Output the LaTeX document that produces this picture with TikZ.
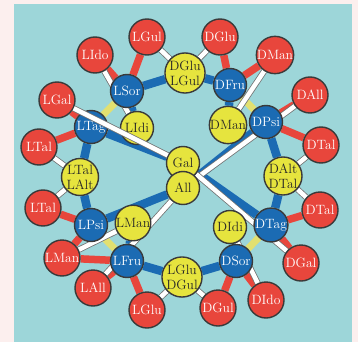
\documentclass[tikz,border=0pt]{standalone}
\usepackage{xcolor}
\usepackage{tikz}
\usetikzlibrary{backgrounds}
\definecolor{izuteal}{HTML}{9DD6D9}
\definecolor{izupink}{HTML}{FCEFEE}
\definecolor{izured}{HTML}{E8463C}
\definecolor{izublue}{HTML}{1B6BB3}
\definecolor{izuyel}{HTML}{E6E43E}
\definecolor{izulink}{HTML}{E2E070}
\definecolor{izurim}{HTML}{3A3A3A}
\tikzset{
  sugar/.style = {circle, draw=izurim, line width=1.4pt, inner sep=0pt,
    align=center, minimum size=33pt, font=\fontsize{13.5}{15}\selectfont},
  hex_k/.style = {sugar, fill=izublue, text=white},% cetose, bleu
  hex_a/.style = {sugar, fill=izured, text=white, minimum size=36pt},% aldose, rouge
  hex_p/.style = {sugar, fill=izuyel, text=black!85},% polyol, jaune
  hex_pp/.style = {hex_p, minimum size=37pt},% polyol, deux noms
  lnk_b/.style = {draw=izublue, line width=8.5pt},
  lnk_r/.style = {draw=izured, line width=7.5pt},
  lnk_y/.style = {draw=izulink, line width=7pt},
  lnk_w/.style = {draw=black!55, line width=0.8pt, double=white,
    double distance=4.5pt}
}
\begin{document}
\begin{tikzpicture}[x=1pt,y=-1pt]
\useasboundingbox (0,0) rectangle (358,342);
\begin{pgfonlayer}{background}
  \fill[izupink] (0,0) rectangle (358,342);
  \fill[izuteal] (14,4) rectangle (352,342);
\end{pgfonlayer}
% cetoses
\node [hex_k] (LSor) at (127,91)  {LSor};
\node [hex_k] (LTag) at (91,127)  {LTag};
\node [hex_k] (LPsi) at (91,225)  {LPsi};
\node [hex_k] (LFru) at (127,261) {LFru};
\node [hex_k] (DFru) at (230,85)  {DFru};
\node [hex_k] (DPsi) at (266,122) {DPsi};
\node [hex_k] (DTag) at (271,225) {DTag};
\node [hex_k] (DSor) at (236,261) {DSor};
% polyols
\node [hex_pp] (pDGlu) at (185,73)  {DGlu\\LGul};
\node [hex_pp] (pLTal) at (80,177)  {LTal\\LAlt};
\node [hex_pp] (pDAlt) at (283,176) {DAlt\\DTal};
\node [hex_pp] (pLGlu) at (182,277) {LGlu\\DGul};
\node [hex_p] (pGal)  at (183,163) {Gal};
\node [hex_p] (pAll)  at (183,188) {All};
\node [hex_p] (pLIdi) at (137,128) {LIdi};
\node [hex_p] (pDMan) at (228,125) {DMan};
\node [hex_p] (pLMan) at (133,223) {LMan};
\node [hex_p] (pDIdi) at (230,227) {DIdi};
% aldoses
\node [hex_a] (LIdo)  at (95,55)   {LIdo};
\node [hex_a] (LGul)  at (147,37)  {LGul};
\node [hex_a] (DGlu)  at (220,37)  {DGlu};
\node [hex_a] (DMan)  at (275,55)  {DMan};
\node [hex_a] (LGal)  at (57,100)  {LGal};
\node [hex_a] (LTal)  at (39,147)  {LTal};
\node [hex_a] (DAll)  at (310,95)  {DAll};
\node [hex_a] (DTal)  at (321,145) {DTal};
\node [hex_a] (LTalb) at (43,208)  {LTal};
\node [hex_a] (LMan)  at (62,258)  {LMan};
\node [hex_a] (LAll)  at (93,288)  {LAll};
\node [hex_a] (LGlu)  at (147,310) {LGlu};
\node [hex_a] (DGul)  at (218,308) {DGul};
\node [hex_a] (DIdo)  at (266,300) {DIdo};
\node [hex_a] (DGal)  at (301,263) {DGal};
\node [hex_a] (DTalb) at (320,210) {DTal};
\begin{pgfonlayer}{background}
  % cetose -- polyol
  \foreach \a/\b in {LSor/pDGlu, DFru/pDGlu, LTag/pLTal, LPsi/pLTal,
      LFru/pLGlu, DSor/pLGlu, DTag/pDAlt, DPsi/pDAlt, LTag/pGal, DTag/pGal,
      LPsi/pAll, DPsi/pAll, LSor/pLIdi, DSor/pDIdi, DFru/pDMan, LFru/pLMan}
    \draw [lnk_b] (\a) -- (\b);
  % cetose -- cetose
  \foreach \a/\b in {LSor/LTag, DFru/DPsi, DTag/DSor, LPsi/LFru}
    \draw [lnk_y] (\a) -- (\b);
  % aldose -- cetose
  \foreach \a/\b in {LIdo/LSor, LGul/LSor, DGlu/DFru, DMan/DFru, DAll/DPsi,
      DTal/DPsi, DTalb/DTag, DGal/DTag, DIdo/DSor, DGul/DSor, LGlu/LFru,
      LAll/LFru, LMan/LFru, LMan/LPsi, LTalb/LPsi, LTal/LTag, LGal/LTag}
    \draw [lnk_r] (\a) -- (\b);
  % aldose -- polyol
  \foreach \a/\b in {LIdo/pLIdi, LGul/pDGlu, DGlu/pDGlu, DMan/pDMan,
      DAll/pAll, DTal/pDAlt, DTalb/pDAlt, DGal/pGal, DIdo/pDIdi,
      DGul/pLGlu, LGlu/pLGlu, LAll/pAll, LMan/pLMan, LTalb/pLTal, LTal/pLTal}
    \draw [lnk_w] (\a) -- (\b);
\end{pgfonlayer}
\draw [lnk_w] (LGal) -- (pGal);
\end{tikzpicture}
\end{document}
